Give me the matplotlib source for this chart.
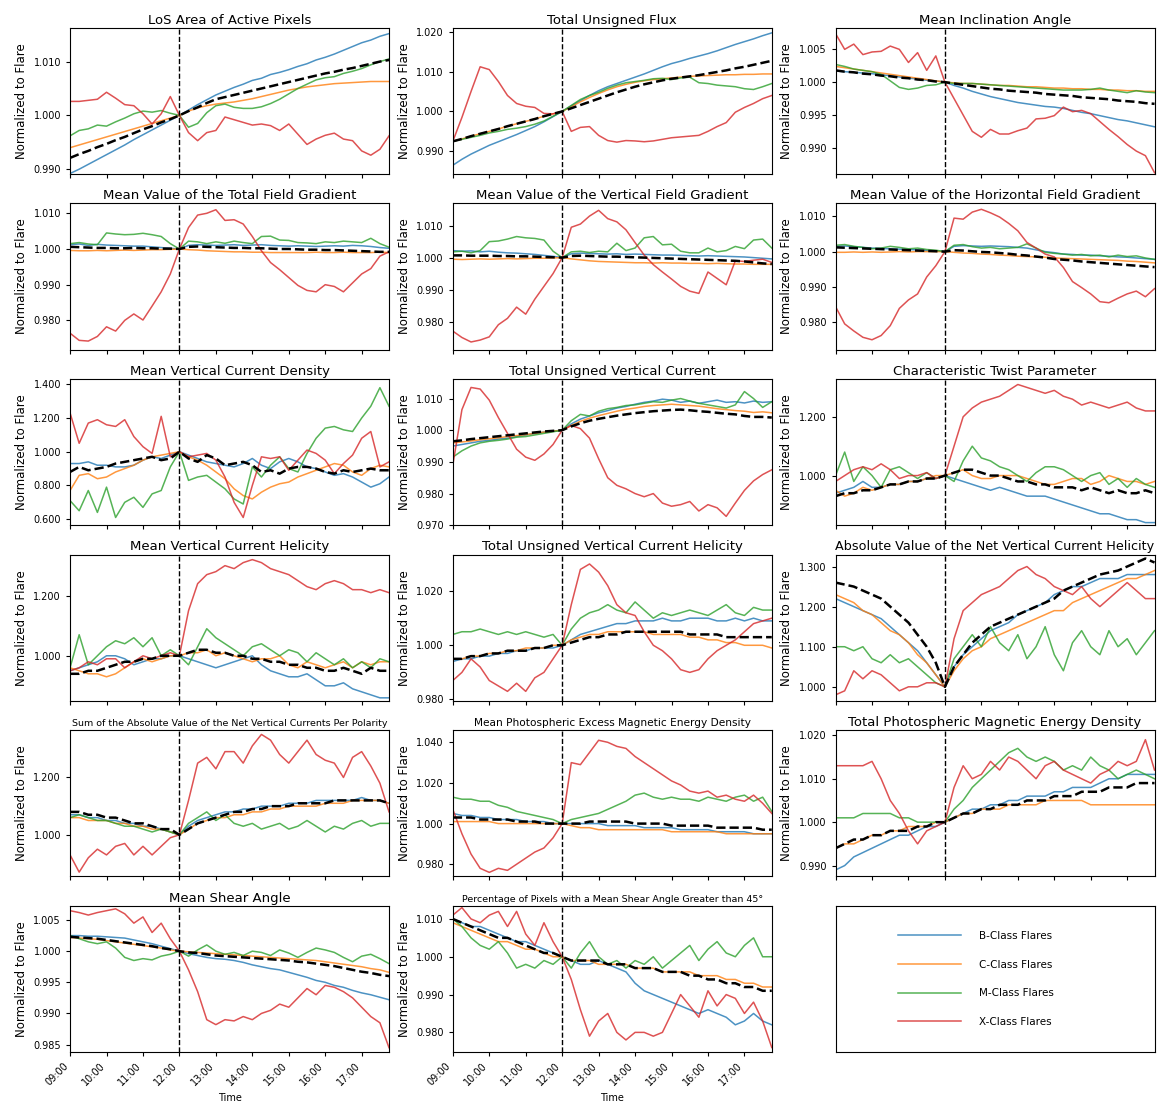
import numpy as np
import pandas as pd
import matplotlib
matplotlib.use("Agg")
import matplotlib.pyplot as plt
import matplotlib.dates as mdates
from matplotlib.lines import Line2D

# 15-minute cadence, 09:00 .. 17:45, flare peak at 12:00
times = pd.date_range("2000-01-01 09:00", "2000-01-01 17:45", freq="15min")
flare_time = pd.Timestamp("2000-01-01 12:00")

CLASS_LABELS = ["B-Class Flares", "C-Class Flares", "M-Class Flares", "X-Class Flares"]
CLASS_COLORS = ["#1f77b4", "#ff7f0e", "#2ca02c", "#d62728"]

# ---- LoS Area of Active Pixels
los_b = [0.9892, 0.9900, 0.9909, 0.9918, 0.9927, 0.9936, 0.9945, 0.9955, 0.9964, 0.9973, 0.9982, 0.9991,
         1.0000, 1.0010, 1.0020, 1.0029, 1.0038, 1.0045, 1.0052, 1.0058, 1.0065, 1.0069, 1.0076, 1.0080,
         1.0085, 1.0091, 1.0096, 1.0103, 1.0108, 1.0114, 1.0121, 1.0128, 1.0135, 1.0140, 1.0147, 1.0152]
los_c = [0.9940, 0.9945, 0.9950, 0.9955, 0.9960, 0.9965, 0.9970, 0.9975, 0.9980, 0.9985, 0.9990, 0.9995,
         1.0000, 1.0008, 1.0014, 1.0018, 1.0021, 1.0023, 1.0025, 1.0028, 1.0031, 1.0035, 1.0039, 1.0043,
         1.0047, 1.0050, 1.0053, 1.0055, 1.0057, 1.0059, 1.0060, 1.0061, 1.0062, 1.0063, 1.0063, 1.0063]
los_m = [0.9962, 0.9972, 0.9975, 0.9982, 0.9980, 0.9988, 0.9995, 1.0003, 1.0008, 1.0006, 1.0009, 1.0004,
         1.0000, 0.9978, 0.9985, 1.0005, 1.0018, 1.0021, 1.0015, 1.0013, 1.0013, 1.0016, 1.0022, 1.0030,
         1.0040, 1.0050, 1.0058, 1.0066, 1.0070, 1.0072, 1.0078, 1.0082, 1.0087, 1.0094, 1.0100, 1.0105]
los_x = [1.0026, 1.0026, 1.0028, 1.0030, 1.0043, 1.0032, 1.0020, 1.0018, 1.0003, 0.9984, 1.0003, 1.0035,
         1.0000, 0.9968, 0.9953, 0.9968, 0.9972, 0.9997, 0.9992, 0.9987, 0.9982, 0.9984, 0.9981, 0.9972,
         0.9984, 0.9965, 0.9946, 0.9956, 0.9963, 0.9967, 0.9956, 0.9953, 0.9934, 0.9926, 0.9937, 0.9962]
los_avg = [0.9921, 0.9928, 0.9934, 0.9941, 0.9947, 0.9954, 0.9960, 0.9967, 0.9974, 0.9980, 0.9987, 0.9993,
           1.0000, 1.0008, 1.0015, 1.0023, 1.0030, 1.0034, 1.0038, 1.0042, 1.0046, 1.0050, 1.0054, 1.0058,
           1.0062, 1.0066, 1.0070, 1.0074, 1.0078, 1.0081, 1.0085, 1.0088, 1.0092, 1.0096, 1.0100, 1.0103]

# ---- Total Unsigned Flux
flux_b = [0.9865, 0.9880, 0.9893, 0.9904, 0.9915, 0.9924, 0.9933, 0.9942, 0.9952, 0.9962, 0.9974, 0.9987,
          1.0000, 1.0014, 1.0027, 1.0040, 1.0052, 1.0062, 1.0070, 1.0078, 1.0086, 1.0094, 1.0103, 1.0112,
          1.0120, 1.0126, 1.0133, 1.0139, 1.0145, 1.0152, 1.0160, 1.0168, 1.0175, 1.0182, 1.0190, 1.0197]
flux_c = [0.9925, 0.9931, 0.9938, 0.9944, 0.9950, 0.9956, 0.9963, 0.9969, 0.9975, 0.9981, 0.9988, 0.9994,
          1.0000, 1.0012, 1.0024, 1.0035, 1.0045, 1.0054, 1.0062, 1.0068, 1.0073, 1.0077, 1.0080, 1.0082,
          1.0084, 1.0086, 1.0088, 1.0089, 1.0090, 1.0091, 1.0092, 1.0092, 1.0093, 1.0093, 1.0094, 1.0094]
flux_m = [0.9925, 0.9930, 0.9935, 0.9940, 0.9946, 0.9950, 0.9955, 0.9958, 0.9962, 0.9968, 0.9976, 0.9988,
          1.0000, 1.0015, 1.0030, 1.0040, 1.0048, 1.0058, 1.0066, 1.0072, 1.0075, 1.0078, 1.0082, 1.0083,
          1.0080, 1.0084, 1.0086, 1.0072, 1.0070, 1.0066, 1.0064, 1.0062, 1.0057, 1.0055, 1.0062, 1.0070]
flux_x = [0.9925, 0.9985, 1.0050, 1.0112, 1.0105, 1.0075, 1.0040, 1.0020, 1.0013, 1.0010, 0.9995, 0.9994,
          1.0000, 0.9950, 0.9960, 0.9962, 0.9940, 0.9927, 0.9923, 0.9927, 0.9926, 0.9924, 0.9926, 0.9930,
          0.9934, 0.9936, 0.9938, 0.9940, 0.9950, 0.9962, 0.9972, 0.9998, 1.0010, 1.0020, 1.0032, 1.0040]
flux_avg = [0.9925, 0.9931, 0.9938, 0.9944, 0.9950, 0.9956, 0.9963, 0.9969, 0.9975, 0.9981, 0.9988, 0.9994,
            1.0000, 1.0008, 1.0016, 1.0024, 1.0032, 1.0040, 1.0048, 1.0055, 1.0062, 1.0068, 1.0073, 1.0078,
            1.0082, 1.0085, 1.0088, 1.0091, 1.0095, 1.0099, 1.0103, 1.0108, 1.0112, 1.0117, 1.0122, 1.0127]

# ---- Mean Inclination Angle
incl_b = [1.0017, 1.0016, 1.0015, 1.0014, 1.0013, 1.0011, 1.0010, 1.0008, 1.0006, 1.0005, 1.0003, 1.0002,
          1.0000, 0.9995, 0.9991, 0.9986, 0.9982, 0.9978, 0.9975, 0.9972, 0.9969, 0.9967, 0.9965, 0.9963,
          0.9962, 0.9960, 0.9957, 0.9954, 0.9952, 0.9949, 0.9946, 0.9943, 0.9941, 0.9938, 0.9935, 0.9932]
incl_c = [1.0024, 1.0022, 1.0020, 1.0018, 1.0016, 1.0014, 1.0012, 1.0010, 1.0008, 1.0006, 1.0004, 1.0002,
          1.0000, 0.9999, 0.9998, 0.9998, 0.9997, 0.9996, 0.9995, 0.9995, 0.9994, 0.9993, 0.9993, 0.9992,
          0.9991, 0.9991, 0.9990, 0.9990, 0.9989, 0.9989, 0.9988, 0.9988, 0.9987, 0.9987, 0.9986, 0.9986]
incl_m = [1.0027, 1.0024, 1.0020, 1.0018, 1.0016, 1.0012, 1.0002, 0.9992, 0.9989, 0.9991, 0.9995, 0.9996,
          1.0000, 0.9998, 0.9998, 0.9998, 0.9997, 0.9996, 0.9995, 0.9994, 0.9993, 0.9992, 0.9991, 0.9990,
          0.9989, 0.9988, 0.9988, 0.9988, 0.9989, 0.9991, 0.9988, 0.9986, 0.9984, 0.9987, 0.9985, 0.9984]
incl_x = [1.0074, 1.0050, 1.0058, 1.0042, 1.0046, 1.0047, 1.0055, 1.0050, 1.0030, 1.0045, 1.0018, 1.0040,
          1.0000, 0.9975, 0.9950, 0.9925, 0.9916, 0.9928, 0.9921, 0.9921, 0.9926, 0.9930, 0.9944, 0.9945,
          0.9949, 0.9962, 0.9955, 0.9957, 0.9952, 0.9940, 0.9928, 0.9917, 0.9905, 0.9895, 0.9888, 0.9862]
incl_avg = [1.0018, 1.0016, 1.0015, 1.0013, 1.0012, 1.0010, 1.0009, 1.0007, 1.0006, 1.0004, 1.0003, 1.0001,
            1.0000, 0.9998, 0.9996, 0.9994, 0.9992, 0.9990, 0.9989, 0.9987, 0.9986, 0.9985, 0.9984, 0.9982,
            0.9981, 0.9980, 0.9979, 0.9977, 0.9976, 0.9975, 0.9974, 0.9972, 0.9971, 0.9970, 0.9968, 0.9967]

# ---- Mean Value of the Total Field Gradient
tgrad_b = [1.0012, 1.0014, 1.0010, 1.0013, 1.0011, 1.0010, 1.0009, 1.0008, 1.0008, 1.0006, 1.0004, 1.0002,
           1.0000, 1.0010, 1.0012, 1.0011, 1.0010, 1.0011, 1.0012, 1.0010, 1.0011, 1.0012, 1.0010, 1.0009,
           1.0008, 1.0009, 1.0008, 1.0007, 1.0008, 1.0009, 1.0008, 1.0010, 1.0009, 1.0007, 1.0004, 1.0002]
tgrad_c = [0.9996, 0.9995, 0.9995, 0.9996, 0.9995, 0.9996, 0.9997, 0.9996, 0.9997, 0.9998, 0.9998, 0.9999,
           1.0000, 0.9998, 0.9997, 0.9995, 0.9994, 0.9993, 0.9992, 0.9992, 0.9991, 0.9991, 0.9990, 0.9990,
           0.9990, 0.9990, 0.9990, 0.9991, 0.9990, 0.9990, 0.9991, 0.9990, 0.9990, 0.9990, 0.9991, 0.9990]
tgrad_m = [1.0015, 1.0018, 1.0014, 1.0012, 1.0045, 1.0042, 1.0040, 1.0041, 1.0044, 1.0040, 1.0035, 1.0015,
           1.0000, 1.0022, 1.0020, 1.0015, 1.0020, 1.0016, 1.0022, 1.0018, 1.0015, 1.0035, 1.0036, 1.0025,
           1.0024, 1.0018, 1.0017, 1.0015, 1.0020, 1.0018, 1.0022, 1.0020, 1.0018, 1.0030, 1.0015, 1.0005]
tgrad_x = [0.9764, 0.9744, 0.9742, 0.9755, 0.9782, 0.9770, 0.9800, 0.9818, 0.9801, 0.9840, 0.9880, 0.9930,
           1.0000, 1.0060, 1.0095, 1.0100, 1.0110, 1.0080, 1.0082, 1.0070, 1.0035, 0.9995, 0.9962, 0.9942,
           0.9920, 0.9898, 0.9884, 0.9880, 0.9900, 0.9895, 0.9880, 0.9905, 0.9930, 0.9945, 0.9980, 0.9992]
tgrad_avg = [1.0006, 1.0005, 1.0004, 1.0003, 1.0003, 1.0002, 1.0002, 1.0003, 1.0002, 1.0002, 1.0001, 1.0001,
             1.0000, 1.0006, 1.0007, 1.0006, 1.0005, 1.0004, 1.0003, 1.0003, 1.0002, 1.0002, 1.0001, 1.0000,
             1.0000, 0.9999, 0.9998, 0.9998, 0.9997, 0.9997, 0.9996, 0.9995, 0.9994, 0.9993, 0.9992, 0.9992]

# ---- Mean Value of the Vertical Field Gradient
vgrad_b = [1.0022, 1.0020, 1.0021, 1.0018, 1.0020, 1.0017, 1.0015, 1.0014, 1.0012, 1.0010, 1.0007, 1.0004,
           1.0000, 1.0012, 1.0014, 1.0013, 1.0012, 1.0011, 1.0012, 1.0010, 1.0011, 1.0010, 1.0009, 1.0008,
           1.0008, 1.0007, 1.0006, 1.0005, 1.0006, 1.0005, 1.0004, 1.0003, 1.0002, 1.0000, 0.9998, 0.9996]
vgrad_c = [0.9995, 0.9994, 0.9995, 0.9996, 0.9995, 0.9996, 0.9997, 0.9996, 0.9997, 0.9998, 0.9998, 0.9999,
           1.0000, 0.9996, 0.9993, 0.9990, 0.9988, 0.9987, 0.9986, 0.9985, 0.9984, 0.9984, 0.9983, 0.9984,
           0.9983, 0.9983, 0.9982, 0.9982, 0.9981, 0.9982, 0.9981, 0.9980, 0.9980, 0.9979, 0.9979, 0.9979]
vgrad_m = [1.0018, 1.0020, 1.0015, 1.0022, 1.0050, 1.0052, 1.0058, 1.0066, 1.0062, 1.0060, 1.0055, 1.0020,
           1.0000, 1.0018, 1.0020, 1.0016, 1.0020, 1.0018, 1.0045, 1.0022, 1.0030, 1.0062, 1.0066, 1.0040,
           1.0042, 1.0020, 1.0015, 1.0015, 1.0030, 1.0018, 1.0022, 1.0035, 1.0028, 1.0055, 1.0058, 1.0030]
vgrad_x = [0.9770, 0.9750, 0.9736, 0.9742, 0.9752, 0.9790, 0.9810, 0.9845, 0.9823, 0.9870, 0.9910, 0.9950,
           1.0000, 1.0095, 1.0105, 1.0130, 1.0148, 1.0122, 1.0112, 1.0087, 1.0047, 1.0008, 0.9978, 0.9955,
           0.9933, 0.9910, 0.9895, 0.9888, 0.9955, 0.9935, 0.9915, 0.9990, 0.9988, 0.9992, 0.9995, 0.9985]
vgrad_avg = [1.0007, 1.0007, 1.0006, 1.0006, 1.0006, 1.0005, 1.0005, 1.0004, 1.0004, 1.0003, 1.0002, 1.0001,
             1.0000, 1.0005, 1.0006, 1.0005, 1.0004, 1.0003, 1.0003, 1.0002, 1.0001, 1.0000, 0.9999, 0.9998,
             0.9997, 0.9996, 0.9995, 0.9994, 0.9993, 0.9992, 0.9991, 0.9990, 0.9988, 0.9985, 0.9982, 0.9980]

# ---- Mean Value of the Horizontal Field Gradient
hgrad_b = [1.0015, 1.0016, 1.0014, 1.0012, 1.0010, 1.0009, 1.0008, 1.0007, 1.0006, 1.0005, 1.0003, 1.0002,
           1.0000, 1.0015, 1.0017, 1.0016, 1.0015, 1.0016, 1.0015, 1.0014, 1.0012, 1.0010, 1.0005, 1.0000,
           0.9997, 0.9993, 0.9992, 0.9990, 0.9990, 0.9988, 0.9987, 0.9985, 0.9984, 0.9982, 0.9980, 0.9978]
hgrad_c = [0.9998, 0.9998, 0.9999, 0.9998, 0.9999, 0.9998, 0.9999, 1.0000, 0.9999, 1.0000, 1.0000, 1.0000,
           1.0000, 0.9998, 0.9996, 0.9995, 0.9993, 0.9992, 0.9990, 0.9989, 0.9987, 0.9986, 0.9985, 0.9984,
           0.9982, 0.9981, 0.9980, 0.9979, 0.9978, 0.9977, 0.9976, 0.9975, 0.9973, 0.9972, 0.9970, 0.9968]
hgrad_m = [1.0018, 1.0020, 1.0015, 1.0012, 1.0008, 1.0010, 1.0015, 1.0012, 1.0008, 1.0010, 1.0006, 1.0004,
           1.0000, 1.0018, 1.0020, 1.0014, 1.0010, 1.0012, 1.0008, 1.0010, 1.0012, 1.0022, 1.0010, 0.9998,
           0.9995, 0.9993, 0.9990, 0.9992, 0.9988, 0.9990, 0.9985, 0.9990, 0.9986, 0.9988, 0.9982, 0.9978]
hgrad_x = [0.9844, 0.9795, 0.9775, 0.9757, 0.9750, 0.9762, 0.9790, 0.9839, 0.9863, 0.9880, 0.9928, 0.9960,
           1.0000, 1.0095, 1.0092, 1.0112, 1.0120, 1.0110, 1.0098, 1.0080, 1.0059, 1.0026, 1.0010, 0.9993,
           0.9985, 0.9955, 0.9915, 0.9898, 0.9880, 0.9858, 0.9855, 0.9868, 0.9880, 0.9888, 0.9872, 0.9895]
hgrad_avg = [1.0012, 1.0011, 1.0010, 1.0009, 1.0008, 1.0007, 1.0006, 1.0005, 1.0004, 1.0003, 1.0002, 1.0001,
             1.0000, 1.0004, 1.0003, 1.0001, 0.9999, 0.9998, 0.9996, 0.9994, 0.9991, 0.9989, 0.9986, 0.9983,
             0.9979, 0.9977, 0.9975, 0.9972, 0.9970, 0.9968, 0.9966, 0.9964, 0.9962, 0.9960, 0.9958, 0.9956]

# ---- Mean Vertical Current Density
jz_b = [0.93, 0.93, 0.94, 0.92, 0.92, 0.91, 0.91, 0.92, 0.95, 0.97, 0.96, 0.98,
        1.00, 0.98, 0.96, 0.94, 0.93, 0.92, 0.91, 0.93, 0.96, 0.92, 0.90, 0.94,
        0.96, 0.94, 0.91, 0.90, 0.88, 0.86, 0.87, 0.85, 0.82, 0.79, 0.81, 0.85]
jz_c = [0.77, 0.86, 0.87, 0.84, 0.85, 0.88, 0.90, 0.92, 0.95, 0.97, 0.98, 0.99,
        1.00, 0.97, 0.95, 0.92, 0.88, 0.84, 0.78, 0.74, 0.72, 0.76, 0.79, 0.81,
        0.82, 0.85, 0.87, 0.89, 0.91, 0.93, 0.92, 0.88, 0.86, 0.90, 0.92, 0.91]
jz_m = [0.71, 0.65, 0.77, 0.64, 0.79, 0.61, 0.70, 0.73, 0.67, 0.75, 0.77, 0.91,
        1.00, 0.83, 0.85, 0.86, 0.82, 0.78, 0.72, 0.69, 0.91, 0.85, 0.92, 0.97,
        0.90, 0.88, 0.99, 1.08, 1.14, 1.15, 1.13, 1.12, 1.20, 1.27, 1.38, 1.27]
jz_x = [1.23, 1.05, 1.17, 1.19, 1.16, 1.15, 1.19, 1.09, 1.03, 0.99, 1.21, 0.97,
        1.00, 0.97, 0.98, 0.99, 0.95, 0.85, 0.70, 0.61, 0.80, 0.97, 0.96, 0.97,
        0.89, 0.95, 1.01, 0.99, 0.95, 0.87, 0.93, 0.98, 1.08, 1.12, 0.91, 0.94]
jz_avg = [0.88, 0.91, 0.89, 0.90, 0.91, 0.93, 0.94, 0.95, 0.96, 0.97, 0.95, 0.96,
          1.00, 0.96, 0.94, 0.98, 0.96, 0.92, 0.93, 0.94, 0.92, 0.88, 0.89, 0.87,
          0.90, 0.91, 0.91, 0.90, 0.88, 0.87, 0.89, 0.88, 0.89, 0.90, 0.89, 0.89]

# ---- Total Unsigned Vertical Current
itot_b = [0.9950, 0.9955, 0.9960, 0.9965, 0.9968, 0.9972, 0.9975, 0.9980, 0.9985, 0.9990, 0.9994, 0.9997,
          1.0000, 1.0020, 1.0035, 1.0045, 1.0055, 1.0062, 1.0070, 1.0075, 1.0082, 1.0088, 1.0092, 1.0098,
          1.0095, 1.0088, 1.0092, 1.0085, 1.0090, 1.0095, 1.0088, 1.0090, 1.0086, 1.0092, 1.0088, 1.0090]
itot_c = [0.9960, 0.9963, 0.9966, 0.9970, 0.9973, 0.9976, 0.9980, 0.9983, 0.9986, 0.9990, 0.9994, 0.9997,
          1.0000, 1.0015, 1.0028, 1.0038, 1.0046, 1.0053, 1.0060, 1.0066, 1.0070, 1.0075, 1.0078, 1.0080,
          1.0082, 1.0080, 1.0078, 1.0076, 1.0072, 1.0068, 1.0065, 1.0062, 1.0060, 1.0056, 1.0058, 1.0055]
itot_m = [0.9915, 0.9935, 0.9950, 0.9960, 0.9965, 0.9968, 0.9972, 0.9978, 0.9980, 0.9985, 0.9990, 0.9995,
          1.0000, 1.0030, 1.0050, 1.0045, 1.0060, 1.0068, 1.0072, 1.0078, 1.0080, 1.0085, 1.0090, 1.0088,
          1.0095, 1.0100, 1.0092, 1.0085, 1.0080, 1.0075, 1.0070, 1.0080, 1.0122, 1.0100, 1.0072, 1.0090]
itot_x = [0.9890, 1.0065, 1.0135, 1.0130, 1.0095, 1.0040, 0.9990, 0.9940, 0.9915, 0.9905, 0.9925, 0.9955,
          1.0000, 1.0015, 1.0005, 0.9975, 0.9910, 0.9850, 0.9826, 0.9815, 0.9800, 0.9790, 0.9800, 0.9770,
          0.9760, 0.9765, 0.9775, 0.9745, 0.9765, 0.9755, 0.9728, 0.9770, 0.9810, 0.9840, 0.9860, 0.9875]
itot_avg = [0.9965, 0.9968, 0.9972, 0.9975, 0.9978, 0.9981, 0.9984, 0.9987, 0.9990, 0.9993, 0.9996, 0.9998,
            1.0000, 1.0012, 1.0022, 1.0030, 1.0036, 1.0041, 1.0046, 1.0050, 1.0054, 1.0057, 1.0060, 1.0062,
            1.0064, 1.0065, 1.0063, 1.0060, 1.0058, 1.0055, 1.0052, 1.0050, 1.0045, 1.0042, 1.0042, 1.0040]

# ---- Characteristic Twist Parameter
twist_b = [0.94, 0.95, 0.96, 0.98, 0.96, 0.96, 0.97, 0.97, 0.98, 0.98, 0.99, 0.99,
           1.00, 0.99, 0.98, 0.97, 0.96, 0.95, 0.96, 0.95, 0.94, 0.93, 0.93, 0.93,
           0.92, 0.91, 0.90, 0.89, 0.88, 0.87, 0.87, 0.86, 0.85, 0.85, 0.84, 0.84]
twist_c = [0.95, 0.93, 0.94, 0.96, 0.95, 0.96, 0.97, 0.97, 0.98, 0.98, 0.99, 1.00,
           1.00, 1.01, 1.02, 1.00, 0.99, 0.99, 1.00, 1.00, 1.00, 0.99, 0.98, 0.97,
           0.97, 0.98, 0.99, 0.99, 0.97, 0.98, 1.00, 0.99, 0.98, 0.98, 0.97, 0.98]
twist_m = [1.00, 1.08, 0.98, 1.03, 1.00, 0.96, 1.02, 1.03, 1.01, 0.99, 1.01, 0.99,
           1.00, 0.98, 1.05, 1.10, 1.06, 1.05, 1.03, 1.02, 1.00, 0.98, 1.01, 1.03,
           1.03, 1.02, 1.00, 0.98, 1.00, 1.01, 0.97, 0.99, 0.96, 0.99, 0.97, 0.96]
twist_x = [0.98, 1.00, 1.02, 1.03, 1.02, 1.04, 1.02, 0.99, 1.00, 1.00, 1.01, 0.99,
           1.00, 1.10, 1.20, 1.23, 1.25, 1.26, 1.27, 1.29, 1.31, 1.30, 1.29, 1.28,
           1.29, 1.27, 1.26, 1.24, 1.25, 1.24, 1.23, 1.24, 1.25, 1.23, 1.22, 1.22]
twist_avg = [0.93, 0.94, 0.94, 0.95, 0.95, 0.96, 0.97, 0.97, 0.98, 0.98, 0.99, 0.99,
             1.00, 1.01, 1.02, 1.02, 1.01, 1.00, 1.00, 0.99, 0.98, 0.98, 0.97, 0.97,
             0.96, 0.96, 0.96, 0.95, 0.96, 0.95, 0.94, 0.95, 0.94, 0.94, 0.95, 0.94]

# ---- Mean Vertical Current Helicity
hel_b = [0.95, 0.96, 0.97, 0.98, 1.00, 1.00, 0.99, 0.97, 0.98, 0.99, 0.99, 1.00,
         1.00, 0.99, 0.98, 0.97, 0.96, 0.97, 0.98, 0.99, 1.00, 0.97, 0.95, 0.94,
         0.93, 0.93, 0.94, 0.92, 0.90, 0.90, 0.91, 0.89, 0.88, 0.87, 0.86, 0.86]
hel_c = [0.96, 0.95, 0.94, 0.94, 0.93, 0.94, 0.96, 0.98, 0.99, 0.98, 0.99, 1.00,
         1.00, 1.01, 1.01, 1.02, 1.00, 1.01, 1.00, 0.99, 0.98, 0.99, 0.99, 1.00,
         0.97, 0.96, 0.98, 0.97, 0.96, 0.97, 0.98, 0.96, 0.98, 0.97, 0.98, 0.98]
hel_m = [0.96, 1.07, 0.97, 1.00, 1.03, 1.05, 1.04, 1.06, 1.03, 1.06, 1.00, 1.02,
         1.00, 0.97, 1.03, 1.09, 1.06, 1.04, 1.02, 1.00, 1.03, 1.04, 1.02, 1.00,
         1.02, 1.01, 0.98, 1.01, 0.99, 0.97, 0.99, 0.96, 0.98, 0.96, 0.99, 0.98]
hel_x = [0.95, 0.96, 0.98, 0.97, 0.99, 0.99, 0.96, 0.98, 1.00, 0.99, 1.00, 1.01,
         1.00, 1.15, 1.24, 1.27, 1.28, 1.30, 1.29, 1.31, 1.32, 1.31, 1.29, 1.28,
         1.27, 1.25, 1.23, 1.22, 1.24, 1.25, 1.24, 1.22, 1.22, 1.21, 1.22, 1.21]
hel_avg = [0.94, 0.94, 0.95, 0.95, 0.96, 0.97, 0.98, 0.98, 0.99, 0.99, 1.00, 1.00,
           1.00, 1.01, 1.02, 1.02, 1.01, 1.01, 1.00, 1.00, 0.99, 0.99, 0.98, 0.98,
           0.97, 0.97, 0.96, 0.96, 0.95, 0.95, 0.96, 0.95, 0.94, 0.96, 0.95, 0.95]

# ---- Total Unsigned Vertical Current Helicity
uhel_b = [0.994, 0.995, 0.995, 0.996, 0.996, 0.997, 0.997, 0.998, 0.998, 0.999, 0.999, 0.999,
          1.000, 1.002, 1.004, 1.005, 1.006, 1.007, 1.008, 1.008, 1.009, 1.009, 1.009, 1.010,
          1.009, 1.009, 1.010, 1.010, 1.010, 1.009, 1.009, 1.010, 1.009, 1.010, 1.009, 1.009]
uhel_c = [0.995, 0.995, 0.996, 0.996, 0.997, 0.997, 0.998, 0.998, 0.999, 0.999, 0.999, 1.000,
          1.000, 1.002, 1.003, 1.004, 1.004, 1.005, 1.005, 1.005, 1.005, 1.005, 1.004, 1.004,
          1.004, 1.004, 1.003, 1.003, 1.002, 1.002, 1.001, 1.001, 1.000, 1.000, 1.000, 0.999]
uhel_m = [1.004, 1.005, 1.005, 1.006, 1.005, 1.004, 1.005, 1.004, 1.005, 1.004, 1.003, 1.004,
          1.000, 1.006, 1.010, 1.012, 1.013, 1.015, 1.013, 1.012, 1.016, 1.013, 1.010, 1.012,
          1.011, 1.012, 1.013, 1.012, 1.011, 1.013, 1.015, 1.012, 1.011, 1.014, 1.013, 1.013]
uhel_x = [0.987, 0.990, 0.995, 0.992, 0.987, 0.985, 0.983, 0.986, 0.983, 0.988, 0.990, 0.995,
          1.000, 1.015, 1.028, 1.030, 1.027, 1.022, 1.015, 1.012, 1.011, 1.005, 1.000, 0.998,
          0.995, 0.991, 0.990, 0.991, 0.995, 0.998, 1.000, 1.002, 1.005, 1.008, 1.009, 1.010]
uhel_avg = [0.995, 0.995, 0.996, 0.996, 0.997, 0.997, 0.998, 0.998, 0.998, 0.999, 0.999, 1.000,
            1.000, 1.001, 1.002, 1.003, 1.003, 1.004, 1.004, 1.005, 1.005, 1.005, 1.005, 1.005,
            1.005, 1.005, 1.004, 1.004, 1.004, 1.004, 1.003, 1.003, 1.003, 1.003, 1.003, 1.003]

# ---- Absolute Value of the Net Vertical Current Helicity
nhel_b = [1.22, 1.21, 1.20, 1.19, 1.18, 1.17, 1.15, 1.13, 1.11, 1.09, 1.06, 1.03,
          1.00, 1.05, 1.08, 1.10, 1.12, 1.14, 1.15, 1.16, 1.18, 1.19, 1.20, 1.21,
          1.23, 1.24, 1.25, 1.25, 1.26, 1.27, 1.27, 1.27, 1.28, 1.28, 1.28, 1.28]
nhel_c = [1.23, 1.22, 1.21, 1.19, 1.18, 1.16, 1.14, 1.13, 1.11, 1.08, 1.06, 1.03,
          1.00, 1.04, 1.07, 1.09, 1.10, 1.12, 1.13, 1.14, 1.15, 1.16, 1.17, 1.18,
          1.19, 1.19, 1.21, 1.22, 1.23, 1.24, 1.25, 1.26, 1.27, 1.27, 1.28, 1.29]
nhel_m = [1.10, 1.10, 1.09, 1.10, 1.07, 1.06, 1.08, 1.06, 1.07, 1.05, 1.03, 1.01,
          1.00, 1.07, 1.10, 1.13, 1.10, 1.15, 1.11, 1.09, 1.13, 1.07, 1.10, 1.15,
          1.08, 1.04, 1.11, 1.14, 1.10, 1.08, 1.14, 1.10, 1.12, 1.08, 1.11, 1.14]
nhel_x = [0.98, 0.99, 1.04, 1.02, 1.04, 1.03, 1.01, 0.99, 1.00, 1.00, 1.01, 1.01,
          1.00, 1.12, 1.19, 1.21, 1.23, 1.24, 1.25, 1.27, 1.29, 1.30, 1.28, 1.27,
          1.25, 1.24, 1.23, 1.25, 1.22, 1.20, 1.22, 1.24, 1.26, 1.24, 1.22, 1.22]
nhel_avg = [1.26, 1.255, 1.25, 1.24, 1.23, 1.22, 1.20, 1.18, 1.16, 1.13, 1.10, 1.06,
            1.00, 1.05, 1.08, 1.11, 1.13, 1.15, 1.16, 1.17, 1.18, 1.19, 1.20, 1.21,
            1.22, 1.24, 1.25, 1.26, 1.27, 1.28, 1.285, 1.29, 1.30, 1.31, 1.32, 1.31]

# ---- Sum of the Absolute Value of the Net Vertical Currents Per Polarity
ipol_b = [1.07, 1.07, 1.06, 1.06, 1.05, 1.05, 1.04, 1.04, 1.03, 1.03, 1.02, 1.01,
          1.00, 1.03, 1.05, 1.06, 1.07, 1.08, 1.08, 1.09, 1.09, 1.10, 1.10, 1.10,
          1.11, 1.11, 1.11, 1.12, 1.12, 1.12, 1.12, 1.12, 1.13, 1.12, 1.12, 1.11]
ipol_c = [1.06, 1.06, 1.05, 1.05, 1.05, 1.04, 1.04, 1.03, 1.03, 1.02, 1.02, 1.01,
          1.00, 1.02, 1.04, 1.05, 1.06, 1.06, 1.07, 1.07, 1.08, 1.08, 1.09, 1.09,
          1.10, 1.10, 1.10, 1.10, 1.11, 1.11, 1.11, 1.12, 1.12, 1.12, 1.12, 1.11]
ipol_m = [1.06, 1.07, 1.06, 1.05, 1.05, 1.04, 1.03, 1.03, 1.02, 1.01, 1.02, 1.01,
          1.00, 1.04, 1.06, 1.08, 1.05, 1.07, 1.04, 1.03, 1.04, 1.02, 1.03, 1.04,
          1.02, 1.03, 1.05, 1.03, 1.01, 1.03, 1.02, 1.04, 1.05, 1.03, 1.04, 1.04]
ipol_x = [0.93, 0.87, 0.92, 0.95, 0.93, 0.96, 0.97, 0.93, 0.96, 0.93, 0.96, 0.99,
          1.00, 1.12, 1.25, 1.27, 1.23, 1.29, 1.29, 1.25, 1.31, 1.35, 1.33, 1.28,
          1.25, 1.29, 1.33, 1.28, 1.26, 1.25, 1.20, 1.27, 1.29, 1.24, 1.18, 1.08]
ipol_avg = [1.08, 1.08, 1.07, 1.07, 1.06, 1.06, 1.05, 1.04, 1.04, 1.03, 1.02, 1.02,
            1.00, 1.02, 1.04, 1.05, 1.06, 1.07, 1.08, 1.08, 1.09, 1.09, 1.10, 1.10,
            1.10, 1.11, 1.11, 1.11, 1.11, 1.12, 1.12, 1.12, 1.12, 1.12, 1.12, 1.11]

# ---- Mean Photospheric Excess Magnetic Energy Density
exc_b = [1.005, 1.004, 1.004, 1.003, 1.003, 1.002, 1.002, 1.002, 1.001, 1.001, 1.001, 1.000,
         1.000, 1.000, 1.000, 1.000, 1.000, 0.999, 0.999, 0.999, 0.999, 0.998, 0.998, 0.998,
         0.998, 0.997, 0.997, 0.997, 0.997, 0.996, 0.996, 0.996, 0.996, 0.995, 0.995, 0.995]
exc_c = [1.001, 1.001, 1.001, 1.001, 1.001, 1.000, 1.000, 1.000, 1.000, 1.000, 1.000, 1.000,
         1.000, 0.999, 0.998, 0.998, 0.997, 0.997, 0.997, 0.997, 0.997, 0.997, 0.997, 0.997,
         0.996, 0.996, 0.996, 0.996, 0.996, 0.996, 0.995, 0.995, 0.995, 0.995, 0.995, 0.995]
exc_m = [1.013, 1.012, 1.012, 1.011, 1.011, 1.009, 1.008, 1.006, 1.005, 1.004, 1.003, 1.002,
         1.000, 1.002, 1.003, 1.004, 1.005, 1.007, 1.009, 1.011, 1.014, 1.015, 1.013, 1.012,
         1.013, 1.012, 1.012, 1.011, 1.013, 1.012, 1.011, 1.013, 1.014, 1.011, 1.013, 1.006]
exc_x = [1.007, 0.995, 0.985, 0.978, 0.976, 0.978, 0.977, 0.980, 0.983, 0.986, 0.988, 0.993,
         1.000, 1.030, 1.029, 1.035, 1.041, 1.040, 1.038, 1.037, 1.033, 1.030, 1.027, 1.024,
         1.021, 1.019, 1.016, 1.015, 1.016, 1.013, 1.014, 1.012, 1.011, 1.014, 1.010, 1.005]
exc_avg = [1.003, 1.003, 1.003, 1.002, 1.002, 1.002, 1.002, 1.001, 1.001, 1.001, 1.000, 1.000,
           1.000, 1.000, 1.000, 1.001, 1.001, 1.001, 1.001, 1.001, 1.000, 1.000, 1.000, 1.000,
           0.999, 0.999, 0.999, 0.999, 0.999, 0.998, 0.998, 0.998, 0.998, 0.998, 0.997, 0.997]

# ---- Total Photospheric Magnetic Energy Density
etot_b = [0.989, 0.990, 0.992, 0.993, 0.994, 0.995, 0.996, 0.997, 0.997, 0.998, 0.999, 0.999,
          1.000, 1.001, 1.002, 1.003, 1.003, 1.004, 1.004, 1.005, 1.005, 1.006, 1.006, 1.006,
          1.007, 1.007, 1.008, 1.008, 1.008, 1.009, 1.010, 1.010, 1.011, 1.011, 1.011, 1.011]
etot_c = [0.994, 0.995, 0.995, 0.996, 0.997, 0.997, 0.998, 0.998, 0.999, 0.999, 0.999, 1.000,
          1.000, 1.001, 1.002, 1.002, 1.003, 1.003, 1.003, 1.004, 1.004, 1.004, 1.004, 1.005,
          1.005, 1.005, 1.005, 1.005, 1.004, 1.004, 1.004, 1.004, 1.004, 1.004, 1.004, 1.004]
etot_m = [1.001, 1.001, 1.001, 1.002, 1.002, 1.002, 1.002, 1.001, 1.001, 1.000, 1.000, 1.000,
          1.000, 1.003, 1.005, 1.008, 1.010, 1.012, 1.014, 1.016, 1.017, 1.015, 1.014, 1.015,
          1.014, 1.012, 1.013, 1.012, 1.015, 1.013, 1.012, 1.010, 1.011, 1.012, 1.011, 1.010]
etot_x = [1.013, 1.013, 1.013, 1.013, 1.014, 1.010, 1.005, 1.002, 0.998, 0.995, 0.998, 0.999,
          1.000, 1.008, 1.013, 1.010, 1.011, 1.014, 1.012, 1.015, 1.014, 1.012, 1.010, 1.013,
          1.014, 1.012, 1.011, 1.010, 1.009, 1.011, 1.012, 1.014, 1.013, 1.014, 1.019, 1.012]
etot_avg = [0.994, 0.995, 0.996, 0.996, 0.997, 0.997, 0.998, 0.998, 0.998, 0.999, 0.999, 1.000,
            1.000, 1.001, 1.002, 1.002, 1.003, 1.003, 1.004, 1.004, 1.004, 1.005, 1.005, 1.005,
            1.006, 1.006, 1.006, 1.007, 1.007, 1.007, 1.008, 1.008, 1.008, 1.009, 1.009, 1.009]

# ---- Mean Shear Angle
shear_b = [1.0025, 1.0025, 1.0024, 1.0024, 1.0023, 1.0022, 1.0021, 1.0018, 1.0015, 1.0012, 1.0008, 1.0004,
           1.0000, 0.9996, 0.9993, 0.9990, 0.9988, 0.9987, 0.9985, 0.9982, 0.9978, 0.9975, 0.9972, 0.9970,
           0.9966, 0.9962, 0.9958, 0.9953, 0.9950, 0.9945, 0.9942, 0.9937, 0.9933, 0.9930, 0.9926, 0.9922]
shear_c = [1.0022, 1.0021, 1.0020, 1.0019, 1.0017, 1.0015, 1.0013, 1.0011, 1.0009, 1.0007, 1.0005, 1.0002,
           1.0000, 0.9999, 0.9998, 0.9997, 0.9996, 0.9995, 0.9994, 0.9993, 0.9992, 0.9991, 0.9990, 0.9989,
           0.9988, 0.9987, 0.9986, 0.9985, 0.9983, 0.9981, 0.9979, 0.9977, 0.9975, 0.9972, 0.9970, 0.9966]
shear_m = [1.0025, 1.0020, 1.0015, 1.0012, 1.0015, 1.0005, 0.9990, 0.9985, 0.9988, 0.9986, 0.9992, 0.9995,
           1.0000, 0.9992, 1.0002, 1.0010, 1.0000, 0.9995, 0.9998, 0.9993, 1.0000, 0.9998, 0.9993, 1.0002,
           0.9997, 0.9990, 0.9998, 1.0005, 1.0002, 0.9998, 0.9990, 0.9983, 0.9992, 0.9995, 0.9988, 0.9980]
shear_x = [1.0065, 1.0062, 1.0058, 1.0062, 1.0065, 1.0068, 1.0060, 1.0045, 1.0055, 1.0030, 1.0045, 1.0020,
           1.0000, 0.9970, 0.9935, 0.9890, 0.9882, 0.9890, 0.9888, 0.9895, 0.9890, 0.9900, 0.9905, 0.9915,
           0.9910, 0.9925, 0.9940, 0.9930, 0.9945, 0.9942, 0.9935, 0.9925, 0.9910, 0.9895, 0.9885, 0.9845]
shear_avg = [1.0023, 1.0022, 1.0021, 1.0020, 1.0018, 1.0016, 1.0014, 1.0012, 1.0010, 1.0008, 1.0005, 1.0003,
             1.0000, 0.9998, 0.9997, 0.9995, 0.9993, 0.9992, 0.9991, 0.9990, 0.9989, 0.9988, 0.9987, 0.9986,
             0.9985, 0.9983, 0.9982, 0.9980, 0.9978, 0.9976, 0.9973, 0.9970, 0.9967, 0.9965, 0.9962, 0.9960]

# ---- Percentage of Pixels with a Mean Shear Angle Greater than 45
pshear_b = [1.010, 1.009, 1.008, 1.008, 1.007, 1.006, 1.005, 1.004, 1.004, 1.003, 1.002, 1.001,
            1.000, 0.999, 0.998, 0.998, 0.999, 0.998, 0.997, 0.996, 0.993, 0.991, 0.990, 0.989,
            0.988, 0.987, 0.986, 0.985, 0.986, 0.985, 0.984, 0.982, 0.983, 0.985, 0.983, 0.982]
pshear_c = [1.009, 1.008, 1.007, 1.006, 1.005, 1.004, 1.004, 1.003, 1.002, 1.002, 1.001, 1.000,
            1.000, 0.999, 0.999, 0.999, 0.998, 0.998, 0.998, 0.998, 0.997, 0.997, 0.997, 0.996,
            0.996, 0.996, 0.996, 0.995, 0.995, 0.995, 0.994, 0.994, 0.993, 0.993, 0.992, 0.992]
pshear_m = [1.010, 1.008, 1.005, 1.003, 1.002, 1.004, 1.001, 0.997, 0.998, 0.997, 0.999, 0.998,
            1.000, 0.997, 1.001, 1.004, 1.000, 0.998, 0.999, 0.997, 0.999, 0.998, 1.000, 0.997,
            0.999, 1.001, 1.003, 0.999, 1.002, 1.004, 1.001, 1.000, 1.003, 1.005, 1.000, 1.000]
pshear_x = [1.011, 1.013, 1.010, 1.009, 1.011, 1.012, 1.008, 1.012, 1.006, 1.003, 1.009, 1.004,
            1.000, 0.994, 0.986, 0.979, 0.983, 0.985, 0.980, 0.978, 0.980, 0.980, 0.979, 0.980,
            0.985, 0.990, 0.987, 0.984, 0.991, 0.987, 0.990, 0.989, 0.985, 0.988, 0.983, 0.976]
pshear_avg = [1.010, 1.009, 1.008, 1.007, 1.006, 1.005, 1.005, 1.004, 1.003, 1.002, 1.001, 1.001,
              1.000, 0.999, 0.999, 0.999, 0.999, 0.998, 0.998, 0.998, 0.997, 0.997, 0.997, 0.996,
              0.996, 0.996, 0.995, 0.995, 0.994, 0.994, 0.993, 0.993, 0.992, 0.992, 0.991, 0.991]

# title, title size, (B, C, M, X, mean), y-limits, y-ticks
PANELS = [
    ("LoS Area of Active Pixels", 9.5, (los_b, los_c, los_m, los_x, los_avg),
     (0.9891, 1.0163), [0.990, 1.000, 1.010]),
    ("Total Unsigned Flux", 9.5, (flux_b, flux_c, flux_m, flux_x, flux_avg),
     (0.9843, 1.0210), [0.990, 1.000, 1.010, 1.020]),
    ("Mean Inclination Angle", 9.5, (incl_b, incl_c, incl_m, incl_x, incl_avg),
     (0.9860, 1.0083), [0.990, 0.995, 1.000, 1.005]),
    ("Mean Value of the Total Field Gradient", 9.5, (tgrad_b, tgrad_c, tgrad_m, tgrad_x, tgrad_avg),
     (0.9718, 1.0128), [0.980, 0.990, 1.000, 1.010]),
    ("Mean Value of the Vertical Field Gradient", 9.5, (vgrad_b, vgrad_c, vgrad_m, vgrad_x, vgrad_avg),
     (0.9712, 1.0170), [0.980, 0.990, 1.000, 1.010]),
    ("Mean Value of the Horizontal Field Gradient", 9.5, (hgrad_b, hgrad_c, hgrad_m, hgrad_x, hgrad_avg),
     (0.9722, 1.0137), [0.980, 0.990, 1.000, 1.010]),
    ("Mean Vertical Current Density", 9.5, (jz_b, jz_c, jz_m, jz_x, jz_avg),
     (0.564, 1.432), [0.6, 0.8, 1.0, 1.2, 1.4]),
    ("Total Unsigned Vertical Current", 9.5, (itot_b, itot_c, itot_m, itot_x, itot_avg),
     (0.9708, 1.0162), [0.970, 0.980, 0.990, 1.000, 1.010]),
    ("Characteristic Twist Parameter", 9.5, (twist_b, twist_c, twist_m, twist_x, twist_avg),
     (0.831, 1.329), [1.0, 1.2]),
    ("Mean Vertical Current Helicity", 9.5, (hel_b, hel_c, hel_m, hel_x, hel_avg),
     (0.850, 1.337), [1.0, 1.2]),
    ("Total Unsigned Vertical Current Helicity", 9.5, (uhel_b, uhel_c, uhel_m, uhel_x, uhel_avg),
     (0.9795, 1.0335), [0.980, 1.000, 1.020]),
    ("Absolute Value of the Net Vertical Current Helicity", 9.2, (nhel_b, nhel_c, nhel_m, nhel_x, nhel_avg),
     (0.965, 1.330), [1.0, 1.1, 1.2, 1.3]),
    ("Sum of the Absolute Value of the Net Vertical Currents Per Polarity", 6.8,
     (ipol_b, ipol_c, ipol_m, ipol_x, ipol_avg), (0.855, 1.365), [1.0, 1.2]),
    ("Mean Photospheric Excess Magnetic Energy Density", 7.6, (exc_b, exc_c, exc_m, exc_x, exc_avg),
     (0.974, 1.046), [0.980, 1.000, 1.020, 1.040]),
    ("Total Photospheric Magnetic Energy Density", 9.5, (etot_b, etot_c, etot_m, etot_x, etot_avg),
     (0.9875, 1.0212), [0.990, 1.000, 1.010, 1.020]),
    ("Mean Shear Angle", 9.5, (shear_b, shear_c, shear_m, shear_x, shear_avg),
     (0.9838, 1.0073), [0.985, 0.990, 0.995, 1.000, 1.005]),
    ("Percentage of Pixels with a Mean Shear Angle Greater than 45°", 6.8,
     (pshear_b, pshear_c, pshear_m, pshear_x, pshear_avg), (0.9748, 1.0135), [0.980, 0.990, 1.000, 1.010]),
]

fig, axes = plt.subplots(6, 3, figsize=(11.58, 11.08), dpi=100)
fig.subplots_adjust(left=0.0605, right=0.997, top=0.975, bottom=0.0505, wspace=0.2, hspace=0.2)
flat = axes.ravel()

for k, (title, tsize, series, ylim, yticks) in enumerate(PANELS):
    ax = flat[k]
    for vals, col in zip(series[:4], CLASS_COLORS):
        ax.plot(times, vals, color=col, lw=1.1, alpha=0.8)
    ax.plot(times, series[4], color="black", lw=1.8, ls="--")
    ax.axvline(flare_time, color="black", lw=1.0, ls="--")
    ax.set_xlim(times[0], times[-1])
    ax.set_ylim(*ylim)
    ax.set_yticks(yticks)
    ax.yaxis.set_major_formatter(matplotlib.ticker.FormatStrFormatter("%.3f"))
    ax.tick_params(labelsize=7, length=3)
    ax.set_ylabel("Normalized to Flare", fontsize=8.5)
    ax.set_title(title, fontsize=tsize, pad=3)
    ax.xaxis.set_major_locator(mdates.HourLocator(byhour=range(9, 18)))
    ax.xaxis.set_major_formatter(mdates.DateFormatter("%H:%M"))
    if k < 15:
        ax.tick_params(axis="x", labelbottom=False)
    else:
        plt.setp(ax.get_xticklabels(), rotation=45, ha="right")
        ax.set_xlabel("Time", fontsize=7)

# legend panel
lax = flat[17]
lax.set_xticks([])
lax.set_yticks([])
handles = [Line2D([0], [0], color=c, lw=1.1, alpha=0.8) for c in CLASS_COLORS]
lax.legend(handles, CLASS_LABELS, loc="center", bbox_to_anchor=(0.44, 0.5), frameon=False,
           fontsize=7.5, handlelength=6, handletextpad=1.7, labelspacing=1.8)

fig.savefig("out.png", dpi=100)
